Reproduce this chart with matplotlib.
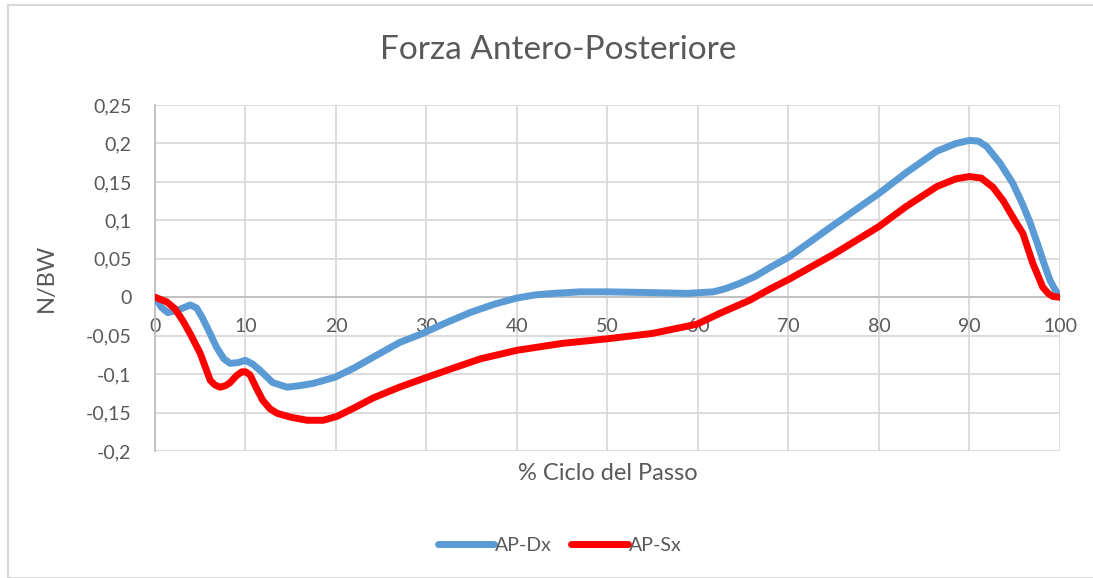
import numpy as np
import matplotlib.pyplot as plt
from matplotlib.patches import Rectangle
from matplotlib.ticker import FuncFormatter

# curve points (% gait cycle, N/BW)
dx_x = [0, 0.7, 1.4, 2.5, 3.9, 4.6, 5.2, 6, 6.8, 7.6, 8.3, 9.2, 10, 10.8, 11.6, 13,
        14.6, 16, 17.5, 19.9, 22, 24.1, 27, 29.6, 32, 34.8, 37.5, 40, 42, 44, 47,
        50, 55, 58.8, 61.7, 63, 64.6, 66.3, 68, 70, 75, 80, 83, 86.4, 88.5, 90,
        91, 91.9, 93.4, 94.8, 95.9, 96.7, 97.5, 98.2, 98.9, 99.4, 99.7, 100]
dx_y = [0, -0.013, -0.02, -0.017, -0.01, -0.014, -0.026, -0.045, -0.065, -0.08,
        -0.086, -0.085, -0.082, -0.087, -0.095, -0.111, -0.117, -0.115, -0.112,
        -0.104, -0.092, -0.078, -0.059, -0.047, -0.034, -0.02, -0.009, -0.001,
        0.003, 0.005, 0.007, 0.007, 0.006, 0.005, 0.007, 0.011, 0.018, 0.027,
        0.039, 0.052, 0.094, 0.135, 0.162, 0.19, 0.2, 0.204, 0.203, 0.196, 0.174,
        0.148, 0.12, 0.097, 0.07, 0.045, 0.022, 0.011, 0.005, 0]

sx_x = [0, 1.3, 2.2, 3.1, 4, 5, 5.6, 6.1, 6.6, 7.2, 7.8, 8.3, 9, 9.6, 10, 10.5, 11.2,
        11.9, 12.7, 13.5, 15, 16.8, 18.6, 20.1, 22, 24.1, 27, 29.6, 33, 36, 40, 45,
        50, 55, 59.9, 62.4, 65.7, 68, 70, 75, 80, 83, 86.4, 88.5, 90, 91.3, 92.6,
        93.7, 95, 95.9, 97, 98.1, 98.7, 99.2, 100]
sx_y = [0, -0.006, -0.015, -0.031, -0.05, -0.073, -0.092, -0.108, -0.114, -0.117,
        -0.115, -0.111, -0.102, -0.097, -0.097, -0.101, -0.118, -0.134, -0.145,
        -0.151, -0.156, -0.16, -0.16, -0.155, -0.144, -0.131, -0.117, -0.106,
        -0.092, -0.08, -0.069, -0.06, -0.054, -0.047, -0.035, -0.021, -0.004,
        0.011, 0.023, 0.056, 0.092, 0.118, 0.144, 0.154, 0.157, 0.155, 0.143,
        0.126, 0.1, 0.083, 0.044, 0.013, 0.005, 0.001, 0]

txt = '#595959'
plt.rcParams['font.family'] = ['Lato', 'DejaVu Sans']


def fmt(v, pos):
    if abs(v) < 1e-9:
        return '0'
    return ('%g' % round(v, 2)).replace('.', ',')


fig = plt.figure(figsize=(10.93, 5.78), dpi=100)
fig.patches.append(Rectangle((0.007, 0.0), 0.995, 0.991, transform=fig.transFigure,
                             fill=False, edgecolor='#D9D9D9', linewidth=1.5))
ax = fig.add_axes([0.1418, 0.2197, 0.828, 0.5986])

ax.plot(dx_x, dx_y, color='#5B9BD5', linewidth=5, solid_capstyle='round',
        solid_joinstyle='round', label='AP-Dx', zorder=3)
ax.plot(sx_x, sx_y, color='#FF0000', linewidth=5, solid_capstyle='round',
        solid_joinstyle='round', label='AP-Sx', zorder=4)

ax.set_xlim(0, 100)
ax.set_ylim(-0.2, 0.25)
ax.set_xticks(np.arange(0, 101, 10))
ax.set_yticks(np.arange(-0.2, 0.2501, 0.05))
ax.yaxis.set_major_formatter(FuncFormatter(fmt))
ax.grid(True, color='#D9D9D9', linewidth=1.3)
ax.set_axisbelow(True)

for s in ['top', 'right']:
    ax.spines[s].set_visible(False)
ax.spines['bottom'].set_position(('data', 0))
ax.spines['bottom'].set_color('#BFBFBF')
ax.spines['bottom'].set_linewidth(1.3)
ax.spines['left'].set_color('#BFBFBF')
ax.spines['left'].set_linewidth(1.3)
ax.tick_params(length=0, labelsize=14, labelcolor=txt)
ax.tick_params(axis='y', pad=17)
ax.tick_params(axis='x', pad=15)

fig.text(0.5105, 0.913, 'Forza Antero-Posteriore', ha='center', va='center',
         fontsize=24, color=txt)
ax.set_ylabel('N/BW', fontsize=17, color=txt)
ax.yaxis.set_label_coords(-0.108, 0.5)
ax.text(0.5, -0.064, '% Ciclo del Passo', transform=ax.transAxes, ha='center',
        va='center', fontsize=17, color=txt)

ax.legend(loc='center', bbox_to_anchor=(0.447, -0.272), ncol=2, frameon=False,
          fontsize=14, labelcolor=txt, handlelength=2.9, handletextpad=0.05,
          columnspacing=1.0)

plt.savefig('out.png', dpi=100)
